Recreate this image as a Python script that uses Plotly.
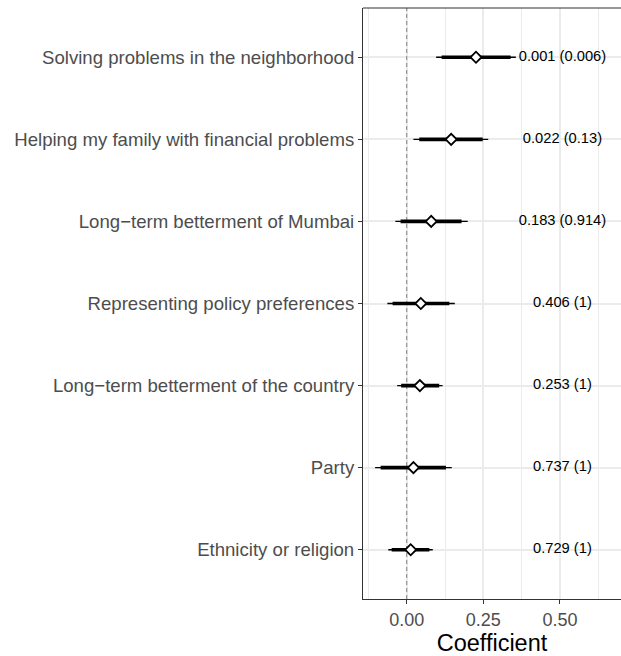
import plotly.graph_objects as go

# Outcome categories, top to bottom
categories = [
    "Solving problems in the neighborhood",
    "Helping my family with financial problems",
    "Long\u2212term betterment of Mumbai",
    "Representing policy preferences",
    "Long\u2212term betterment of the country",
    "Party",
    "Ethnicity or religion",
]
estimate = [0.226, 0.145, 0.080, 0.046, 0.043, 0.022, 0.013]
ci95_low = [0.096, 0.022, -0.037, -0.063, -0.031, -0.103, -0.060]
ci95_high = [0.356, 0.266, 0.199, 0.157, 0.117, 0.147, 0.085]
ci90_low = [0.114, 0.041, -0.020, -0.046, -0.018, -0.085, -0.049]
ci90_high = [0.339, 0.248, 0.179, 0.139, 0.106, 0.128, 0.074]
p_labels = ["0.001 (0.006)", "0.022 (0.13)", "0.183 (0.914)", "0.406 (1)",
            "0.253 (1)", "0.737 (1)", "0.729 (1)"]
label_x = 0.508

FONT = "Liberation Sans, Arial, sans-serif"

n = len(categories)
ypos = [n - i for i in range(n)]          # top row gets the largest position
y_range = [0.4, n + 0.6]

fig = go.Figure()

# reference line at zero
fig.add_trace(go.Scatter(
    x=[0, 0], y=y_range, mode="lines",
    line=dict(color="#8C8C8C", width=1.1, dash="4px,3px"),
    showlegend=False, hoverinfo="skip"))

for i in range(n):
    fig.add_trace(go.Scatter(
        x=[ci95_low[i], ci95_high[i]], y=[ypos[i], ypos[i]], mode="lines",
        line=dict(color="black", width=1.4), showlegend=False, hoverinfo="skip"))
    fig.add_trace(go.Scatter(
        x=[ci90_low[i], ci90_high[i]], y=[ypos[i], ypos[i]], mode="lines",
        line=dict(color="black", width=3.6), showlegend=False, hoverinfo="skip"))

fig.add_trace(go.Scatter(
    x=estimate, y=ypos, mode="markers",
    marker=dict(symbol="diamond", size=8.5, color="white",
                line=dict(color="black", width=1.8)),
    showlegend=False))

fig.add_trace(go.Scatter(
    x=[label_x] * n, y=ypos, mode="text",
    text=p_labels, textposition="middle center",
    textfont=dict(family=FONT, size=14.7, color="black"),
    showlegend=False, hoverinfo="skip"))

fig.update_layout(
    width=621, height=656,
    margin=dict(l=363, r=0, t=8, b=57),
    paper_bgcolor="white", plot_bgcolor="white",
    font=dict(family=FONT),
)

fig.update_xaxes(
    range=[-0.1425, 0.699],
    tickvals=[0, 0.25, 0.5], ticktext=["0.00", "0.25", "0.50"],
    tickfont=dict(family=FONT, size=18, color="#4D4D4D"),
    ticks="outside", ticklen=4, tickcolor="#333333", tickwidth=1.1,
    showgrid=True, gridcolor="#EBEBEB", gridwidth=1.6,
    minor=dict(tickvals=[-0.125, 0.125, 0.375, 0.625], showgrid=True,
               gridcolor="#EBEBEB", gridwidth=0.9, ticks=""),
    showline=True, linecolor="#333333", linewidth=1.1, mirror=False,
    zeroline=False,
    title=dict(text="Coefficient", font=dict(family=FONT, size=23.5, color="black"),
               standoff=3),
)
fig.update_yaxes(
    range=y_range, tickvals=ypos, ticktext=categories,
    tickfont=dict(family=FONT, size=18.6, color="#4D4D4D"),
    ticks="outside", ticklen=4, tickcolor="#333333", tickwidth=1.1,
    showgrid=True, gridcolor="#EBEBEB", gridwidth=1.6,
    showline=True, linecolor="#333333", linewidth=1.1, mirror=False,
    zeroline=False,
)

# top edge of the panel
fig.add_shape(type="line", xref="paper", yref="paper", x0=0, x1=1, y0=1, y1=1,
              line=dict(color="#333333", width=1.1))

fig.write_html("out.html")
